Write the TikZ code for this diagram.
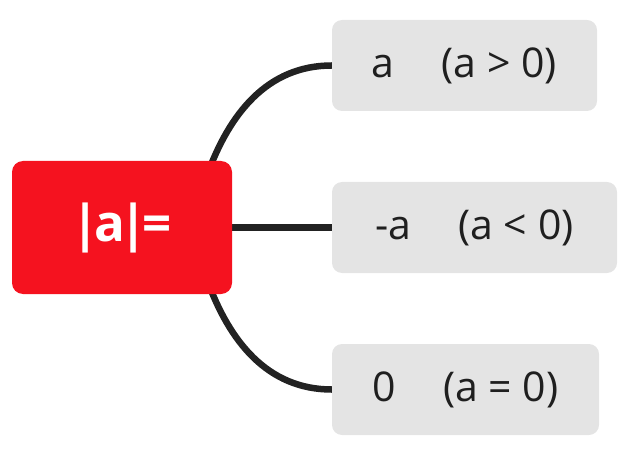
\documentclass[tikz,border=0pt]{standalone}
\usepackage{fontspec}
\setmainfont{Open Sans}
\usetikzlibrary{backgrounds}
\definecolor{rootred}{HTML}{F5121F}
\definecolor{childgray}{HTML}{E4E4E4}
\definecolor{linegray}{HTML}{222222}
\definecolor{textgray}{HTML}{1F1F1F}
\begin{document}
\begin{tikzpicture}[x=1pt,y=-1pt,
  rootbox/.style={fill=rootred, rounded corners=11pt, minimum width=220pt, minimum height=133pt,
    inner sep=0pt, text=white, font=\fontsize{51}{55}\selectfont\bfseries},
  childbox/.style={fill=childgray, rounded corners=10pt, minimum height=91pt,
    inner sep=0pt, text=textgray, font=\fontsize{41}{45}\selectfont},
  conn/.style={draw=linegray, line width=6.5pt}]
\useasboundingbox (0,0) rectangle (636,454);
\node[rootbox] (root) at (122,227.5) {|\kern-6pt a\kern-5pt|\kern-5pt=};
\node[childbox, minimum width=265pt] (c1) at (464.5,65.5) {a\hspace{47pt}(a > 0)};
\node[childbox, minimum width=285pt] (c2) at (474.5,227.5) {-a\hspace{47pt}(a < 0)};
\node[childbox, minimum width=267pt] (c3) at (465.5,389.5) {0\hspace{47pt}(a = 0)};
\begin{scope}[on background layer]
\draw[conn] ([xshift=-25pt,yshift=-14pt]root.north east) to[out=70,in=180] (c1.west);
\draw[conn] (root.east) -- (c2.west);
\draw[conn] ([xshift=-25pt,yshift=14pt]root.south east) to[out=-70,in=180] (c3.west);
\end{scope}
\end{tikzpicture}
\end{document}
